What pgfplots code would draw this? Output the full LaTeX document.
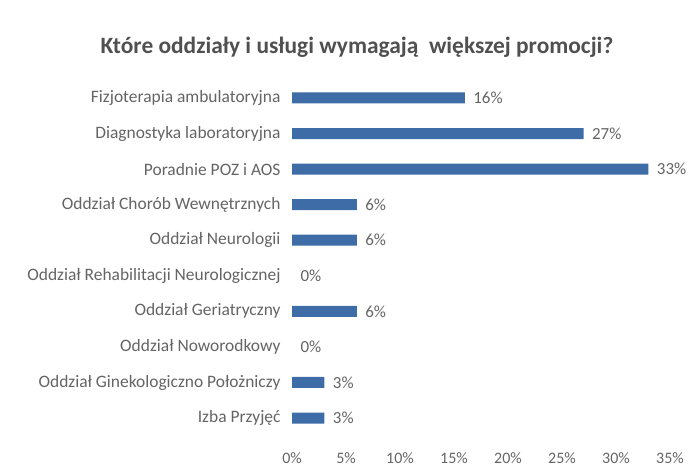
\documentclass[border=0pt]{standalone}
\usepackage{fontspec}
\setmainfont{Carlito}
\usepackage{pgfplots}
\usepackage{pgfplotstable}
\pgfplotsset{compat=1.18}
\definecolor{bar}{RGB}{62,108,166}
\definecolor{txt}{RGB}{100,100,100}
\definecolor{ttl}{RGB}{80,80,80}

% y = 0 is the bottom row (Izba Przyjęć)
\pgfplotstableread{
val idx
3  0
3  1
0  2
6  3
0  4
6  5
6  6
33 7
27 8
16 9
}\promo

\begin{document}
\begin{tikzpicture}[x=1bp,y=1bp]
\useasboundingbox (0,0) rectangle (694,473);
\node[font=\fontsize{23.5}{26}\selectfont\bfseries, text=ttl] at (357,426)
  {Które oddziały i usługi wymagają\ \ większej promocji?};
\begin{axis}[
    at={(292bp,37.2bp)}, anchor=south west, scale only axis,
    width=378bp, height=355.6bp,
    xbar, bar width=11bp, bar shift=0pt,
    xmin=0, xmax=35, ymin=-0.5, ymax=9.5,
    axis line style={draw=none}, major tick length=0,
    /pgf/number format/assume math mode=true,
    xtick={0,5,...,35},
    xticklabel={\pgfmathprintnumber{\tick}\%},
    xticklabel style={yshift=-13bp, font=\fontsize{16}{18}\selectfont},
    ytick={0,...,9},
    yticklabels={Izba Przyjęć, Oddział Ginekologiczno Położniczy,
      Oddział Noworodkowy, Oddział Geriatryczny,
      Oddział Rehabilitacji Neurologicznej, Oddział Neurologii,
      Oddział Chorób Wewnętrznych, Poradnie POZ i AOS,
      Diagnostyka laboratoryjna, Fizjoterapia ambulatoryjna},
    yticklabel style={xshift=-8bp, font=\fontsize{17.5}{19}\selectfont},
    tick label style={text=txt},
]
% bars (zero values left out so no hairline shows)
\addplot[fill=bar, draw=none, unbounded coords=discard,
  x filter/.expression={x==0 ? nan : x}] table[x=val, y=idx] {\promo};
% value labels for every row
\addplot[draw=none, fill=none,
  nodes near coords={\pgfmathprintnumber{\pgfplotspointmeta}\%},
  every node near coord/.append style={font=\fontsize{17}{19}\selectfont,
    text=txt, anchor=west, xshift=5bp}] table[x=val, y=idx] {\promo};
\end{axis}
\end{tikzpicture}
\end{document}
